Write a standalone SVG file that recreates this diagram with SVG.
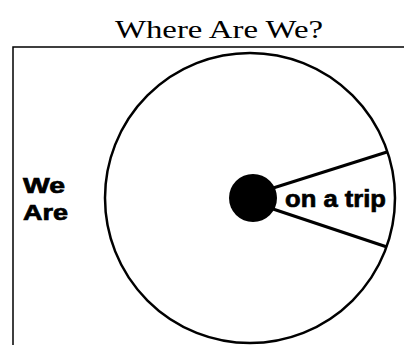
<svg xmlns="http://www.w3.org/2000/svg" width="404" height="345" viewBox="0 0 404 345">
<style>
.title{font-family:"Liberation Serif",serif;font-size:26px;fill:#000}
.lbl{font-family:"Liberation Sans",Arial,sans-serif;font-weight:bold;fill:#000;stroke:#000;stroke-width:0.7}
.ln{stroke:#000;fill:none}
</style>
<rect width="404" height="345" fill="#fff"/>
<text class="title" x="115" y="38" textLength="208" lengthAdjust="spacingAndGlyphs">Where Are We?</text>
<g id="frame">
<path class="ln" stroke-width="1.5" d="M13,345 V47 H404"/>
</g>
<g id="circle">
<circle class="ln" cx="250" cy="198" r="145" stroke-width="2.5"/>
</g>
<g id="connectors">
<line class="ln" stroke-width="3" x1="270" y1="189" x2="387" y2="152"/>
<line class="ln" stroke-width="3" x1="270" y1="208" x2="387" y2="247"/>
</g>
<g id="hub">
<circle cx="253" cy="198" r="24" fill="#000"/>
</g>
<g id="we-are">
<text class="lbl" font-size="22" x="23" y="193" textLength="42" lengthAdjust="spacingAndGlyphs">We</text>
<text class="lbl" font-size="22" x="23" y="220" textLength="45" lengthAdjust="spacingAndGlyphs">Are</text>
</g>
<g id="on-a-trip">
<text class="lbl" font-size="24" x="285" y="207" textLength="101" lengthAdjust="spacingAndGlyphs">on a trip</text>
</g>
</svg>
